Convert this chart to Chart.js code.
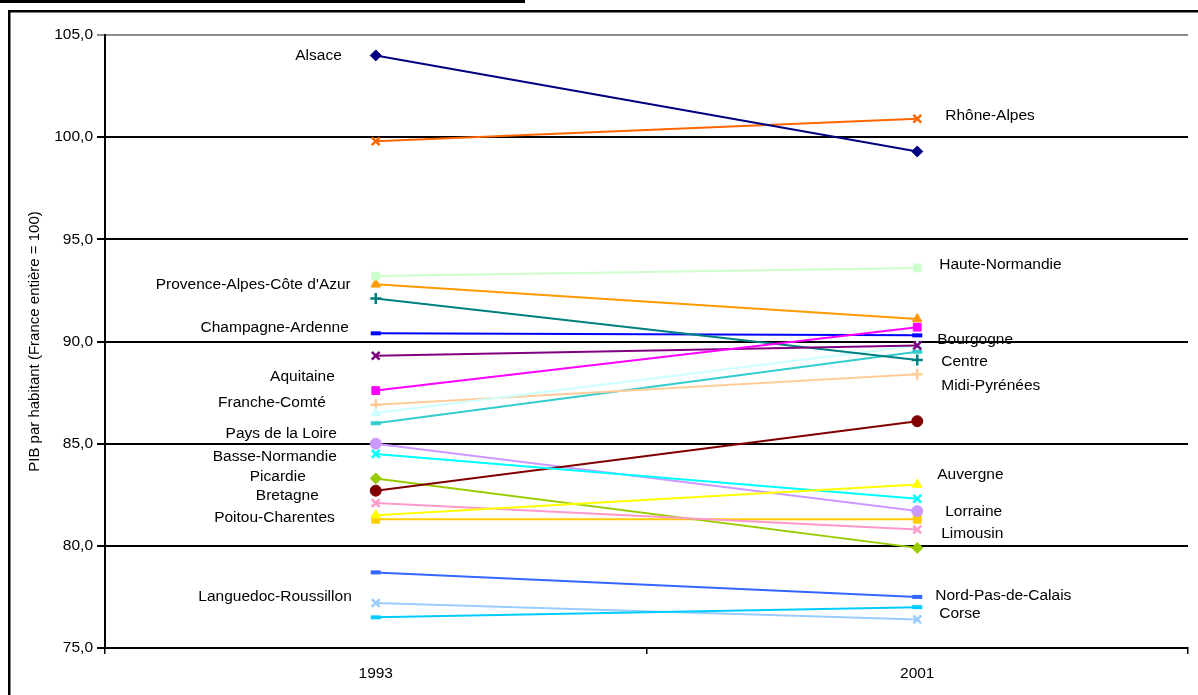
<!DOCTYPE html>
<html>
<head>
<meta charset="utf-8">
<script src="https://cdn.jsdelivr.net/npm/chart.js@4/dist/chart.umd.min.js"></script>
<style>
  html, body { margin: 0; padding: 0; background: #fff; }
  #wrap { width: 1198px; height: 695px; position: relative; }
</style>
</head>
<body>
<div id="wrap"><canvas id="c" width="1198" height="695"></canvas></div>
<script>
// PIB par habitant des régions (France entière = 100), 1993 et 2001
const years = ['1993', '2001'];
const regions = [
  'Alsace', 'Aquitaine', 'Auvergne', 'Basse-Normandie', 'Bourgogne', 'Bretagne',
  'Centre', 'Champagne-Ardenne', 'Corse', 'Franche-Comté', 'Haute-Normandie',
  'Languedoc-Roussillon', 'Limousin', 'Lorraine', 'Midi-Pyrénées', 'Nord-Pas-de-Calais',
  'Pays de la Loire', 'Picardie', 'Poitou-Charentes', "Provence-Alpes-Côte d'Azur", 'Rhône-Alpes'
];
const values1993 = [104.0, 87.6, 81.5, 84.5, 89.3, 82.7, 92.1, 90.4, 76.5, 86.5, 93.2,
                    77.2, 82.1, 85.0, 86.9, 78.7, 86.0, 83.3, 81.3, 92.8, 99.8];
const values2001 = [99.3, 90.7, 83.0, 82.3, 89.8, 86.1, 89.1, 90.3, 77.0, 89.8, 93.6,
                    76.4, 80.8, 81.7, 88.4, 77.5, 89.5, 79.9, 81.3, 91.1, 100.9];
const yTickValues = [75, 80, 85, 90, 95, 100, 105];
const yTitle = 'PIB par habitant (France entière = 100)';

// Series styling
const lineColors = [
  '#000080', '#FF00FF', '#FFFF00', '#00FFFF', '#800080', '#800000',
  '#008080', '#0000FF', '#00CCFF', '#CCFFFF', '#CCFFCC',
  '#99CCFF', '#FF99CC', '#CC99FF', '#FFCC99', '#3366FF',
  '#33CCCC', '#99CC00', '#FFCC00', '#FF9900', '#FF6600'
];
const markerStyles = [
  'rectRot', 'rect', 'triangle', 'crossRot', 'crossRot', 'circle',
  'cross', 'line', 'line', 'triangle', 'rect',
  'crossRot', 'crossRot', 'circle', 'cross', 'line',
  'line', 'rectRot', 'rect', 'triangle', 'crossRot'
];

// Region name placement: side 0 = left of the 1993 point, 1 = right of the 2001 point; dx/dy in px
const labelPlacement = {
  'Alsace': [0, -34, 0],
  "Provence-Alpes-Côte d'Azur": [0, -25, 0],
  'Champagne-Ardenne': [0, -27, -6],
  'Aquitaine': [0, -41, -14],
  'Franche-Comté': [0, -50, -10],
  'Pays de la Loire': [0, -39, 10],
  'Basse-Normandie': [0, -39, 3],
  'Picardie': [0, -70, -2],
  'Bretagne': [0, -57, 5],
  'Poitou-Charentes': [0, -41, -2],
  'Languedoc-Roussillon': [0, -24, -6],
  'Rhône-Alpes': [1, 28, -3],
  'Haute-Normandie': [1, 22, -3],
  'Bourgogne': [1, 20, -6],
  'Centre': [1, 24, 2],
  'Midi-Pyrénées': [1, 24, 12],
  'Auvergne': [1, 20, -10],
  'Lorraine': [1, 28, 1],
  'Limousin': [1, 24, 4],
  'Nord-Pas-de-Calais': [1, 18, -1],
  'Corse': [1, 22, 7]
};

const FONT = "'Liberation Sans', Arial, sans-serif";

const datasets = regions.map((name, i) => ({
  label: name,
  data: [values1993[i], values2001[i]],
  borderColor: lineColors[i],
  backgroundColor: lineColors[i],
  borderWidth: 2,
  pointStyle: markerStyles[i],
  pointRadius: markerStyles[i] === 'line' ? 5 : 5.5,
  pointBorderWidth: markerStyles[i] === 'line' ? 4 : (markerStyles[i].startsWith('cross') ? 2.5 : 1),
  pointBackgroundColor: lineColors[i],
  pointBorderColor: lineColors[i],
  tension: 0
}));

const framePlugin = {
  id: 'frame',
  beforeDraw(chart) {
    const ctx = chart.ctx;
    ctx.save();
    ctx.fillStyle = '#fff';
    ctx.fillRect(0, 0, chart.width, chart.height);
    ctx.fillStyle = '#000';
    ctx.fillRect(0, 0, 525, 3);
    ctx.strokeStyle = '#000';
    ctx.lineWidth = 2.5;
    ctx.strokeRect(9.25, 11.25, 1200, 700);
    ctx.restore();
  }
};

const regionLabelPlugin = {
  id: 'regionLabels',
  afterDatasetsDraw(chart) {
    const ctx = chart.ctx;
    ctx.save();
    ctx.font = '15.5px ' + FONT;
    ctx.fillStyle = '#000';
    ctx.textBaseline = 'middle';
    regions.forEach((name, i) => {
      const p = labelPlacement[name];
      if (!p) return;
      const pt = chart.getDatasetMeta(i).data[p[0]];
      ctx.textAlign = p[0] === 0 ? 'right' : 'left';
      ctx.fillText(name, pt.x + p[1], pt.y + p[2]);
    });
    ctx.restore();
  }
};

new Chart(document.getElementById('c'), {
  type: 'line',
  data: { labels: years, datasets },
  plugins: [framePlugin, regionLabelPlugin],
  options: {
    responsive: false,
    devicePixelRatio: 1,
    animation: false,
    layout: { padding: { left: 8, top: 35, right: 10, bottom: 0 } },
    plugins: { legend: { display: false }, tooltip: { enabled: false } },
    scales: {
      x: {
        type: 'category',
        offset: true,
        afterFit(s) { s.height = 47; },
        grid: { offset: true, drawOnChartArea: false, color: '#000', lineWidth: 1.5, tickLength: 6 },
        border: { display: true, color: '#000', width: 2 },
        ticks: { color: '#000', font: { family: FONT, size: 15.5 }, padding: 10 }
      },
      y: {
        min: 75,
        max: 105,
        afterFit(s) { s.width = 97; },
        afterBuildTicks(s) { s.ticks = yTickValues.map(v => ({ value: v })); },
        grid: {
          color: c => (c.tick && c.tick.value === 105 ? '#8c8c8c' : '#000'),
          lineWidth: 2,
          tickLength: 8
        },
        border: { display: true, color: '#000', width: 2 },
        ticks: {
          color: '#000',
          font: { family: FONT, size: 15.5 },
          padding: 4,
          callback: v => Number(v).toFixed(1).replace('.', ',')
        },
        title: {
          display: true,
          text: yTitle,
          color: '#000',
          font: { family: FONT, size: 15 },
          padding: { top: 18, bottom: 0 }
        }
      }
    }
  }
});
</script>
</body>
</html>
